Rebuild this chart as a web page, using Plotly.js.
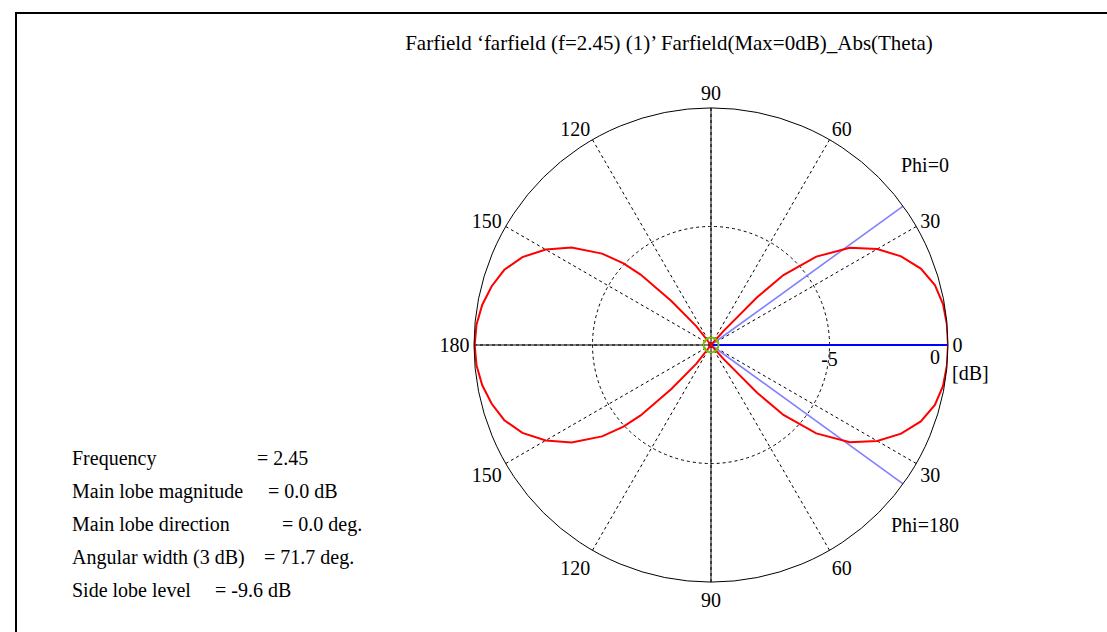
<!DOCTYPE html>
<html>
<head>
<meta charset="utf-8">
<script src="https://cdn.plot.ly/plotly-3.0.1.min.js"></script>
<style>html,body{margin:0;padding:0;background:#fff;}#chart{width:1107px;height:632px;}</style>
</head>
<body>
<div id="chart"></div>
<script>
// ---- data ----
const patternTheta = [0,5,10,15,20,25,30,35,40,44,46,48,50,90,126,128,132,135,137,140,145,150,155,160,165,170,175,180,
  185,190,195,200,205,210,215,220,223,225,228,232,234,270,310,312,314,316,320,325,330,335,340,345,350,355,360];
const patternDb = [0,-0.01,-0.06,-0.22,-0.58,-1.15,-1.9,-2.85,-4.2,-5.75,-7.2,-9.2,-10,-10,-10,-9.0,-7.5,-5.8,-4.95,-4.0,-2.82,-1.95,-1.22,-0.72,-0.42,-0.2,-0.07,-0.03,
  -0.07,-0.2,-0.42,-0.72,-1.22,-1.95,-2.82,-4.0,-4.95,-5.8,-7.5,-9.0,-10,-10,-10,-9.2,-7.2,-5.75,-4.2,-2.85,-1.9,-1.15,-0.58,-0.22,-0.06,-0.01,0];
const mainLobeDir = 0;          // deg
const beamEdges = [35.85, -35.85]; // 3 dB edges (71.7 deg width)
const angTickVals = [0,30,60,90,120,150,180,210,240,270,300,330];
const angTickText = ['0','30','60','90','120','150','180','150','120','90','60','30'];
const radTickVals = [-5, 0];
const radTickText = ['-5', ''];
const radZeroLabel = '0';
const rMin = -10, rMax = 0;
const infoLabels = ['Frequency','Main lobe magnitude','Main lobe direction','Angular width (3 dB)','Side lobe level'];
const infoValues = ['= 2.45','= 0.0 dB','= 0.0 deg.','= 71.7 deg.','= -9.6 dB'];
const infoValueX = [255, 266, 280, 262, 213];

const W = 1107, H = 632;
const FONT = 'Liberation Serif, Times New Roman, serif';
const FS = 20;

const traces = [
  // solid cross axes
  {type:'scatterpolar', mode:'lines', r:[rMax,rMin,rMax], theta:[0,0,180], line:{color:'#000',width:1}, hoverinfo:'skip', showlegend:false},
  {type:'scatterpolar', mode:'lines', r:[rMax,rMin,rMax], theta:[90,90,270], line:{color:'#000',width:1}, hoverinfo:'skip', showlegend:false},
  // 3 dB beam edges
  {type:'scatterpolar', mode:'lines', r:[rMin,rMax], theta:[beamEdges[0],beamEdges[0]], line:{color:'#8080ff',width:1.6}, hoverinfo:'skip', showlegend:false},
  {type:'scatterpolar', mode:'lines', r:[rMin,rMax], theta:[beamEdges[1],beamEdges[1]], line:{color:'#8080ff',width:1.6}, hoverinfo:'skip', showlegend:false},
  // main lobe direction
  {type:'scatterpolar', mode:'lines', r:[rMin,rMax], theta:[mainLobeDir,mainLobeDir], line:{color:'#0000ff',width:2}, hoverinfo:'skip', showlegend:false},
  // pattern
  {type:'scatterpolar', mode:'lines', r:patternDb, theta:patternTheta, line:{color:'#ff0000',width:2}, showlegend:false},
  // origin marker
  {type:'scatterpolar', mode:'markers', r:[rMin], theta:[0], marker:{symbol:'circle-open', size:15, color:'#7cc000', line:{width:2,color:'#7cc000'}}, hoverinfo:'skip', showlegend:false}
];

const ann = [];
for (let i=0;i<infoLabels.length;i++){
  const y = 458 + i*33;
  ann.push({xref:'paper',yref:'paper',x:70/W,y:1-y/H,xanchor:'left',yanchor:'middle',text:infoLabels[i],showarrow:false,font:{family:FONT,size:FS,color:'#000'}});
  ann.push({xref:'paper',yref:'paper',x:infoValueX[i]/W,y:1-y/H,xanchor:'left',yanchor:'middle',text:infoValues[i],showarrow:false,font:{family:FONT,size:FS,color:'#000'}});
}
ann.push({xref:'paper',yref:'paper',x:925/W,y:1-165/H,xanchor:'center',yanchor:'middle',text:'Phi=0',showarrow:false,font:{family:FONT,size:FS,color:'#000'}});
ann.push({xref:'paper',yref:'paper',x:925/W,y:1-525/H,xanchor:'center',yanchor:'middle',text:'Phi=180',showarrow:false,font:{family:FONT,size:FS,color:'#000'}});
ann.push({xref:'paper',yref:'paper',x:970/W,y:1-373/H,xanchor:'center',yanchor:'middle',text:'[dB]',showarrow:false,font:{family:FONT,size:FS,color:'#000'}});
ann.push({xref:'paper',yref:'paper',x:935/W,y:1-357/H,xanchor:'center',yanchor:'middle',text:radZeroLabel,showarrow:false,font:{family:FONT,size:FS,color:'#000'}});

const layout = {
  width:W, height:H,
  margin:{l:0,r:0,t:0,b:0},
  paper_bgcolor:'#fff',
  showlegend:false,
  title:{text:'Farfield \u2018farfield (f=2.45) (1)\u2019 Farfield(Max=0dB)_Abs(Theta)', x:669/W, xanchor:'center', y:1-43/H, yanchor:'middle', font:{family:FONT,size:21,color:'#000'}},
  font:{family:FONT,size:FS,color:'#000'},
  polar:{
    domain:{x:[474/W, 948/W], y:[(H-582)/H, (H-108)/H]},
    bgcolor:'#fff',
    angularaxis:{rotation:0, direction:'counterclockwise', tickmode:'array', tickvals:angTickVals, ticktext:angTickText,
      ticks:'', showline:true, linecolor:'#000', linewidth:1, showgrid:true, gridcolor:'#000', gridwidth:1, griddash:'dot',
      tickfont:{family:FONT,size:FS,color:'#000'}},
    radialaxis:{range:[rMin,rMax], tickmode:'array', tickvals:radTickVals, ticktext:radTickText, angle:0, side:'clockwise', tickangle:0,
      showline:false, ticks:'', showgrid:true, gridcolor:'#000', gridwidth:1, griddash:'dot',
      tickfont:{family:FONT,size:FS,color:'#000'}}
  },
  annotations:ann,
  shapes:[{type:'rect', xref:'paper', yref:'paper', x0:16/W, x1:1.05, y0:-0.05, y1:1-13/H, line:{color:'#000',width:2}, fillcolor:'rgba(0,0,0,0)'}]
};

Plotly.newPlot('chart', traces, layout, {displayModeBar:false, staticPlot:true});
</script>
</body>
</html>
